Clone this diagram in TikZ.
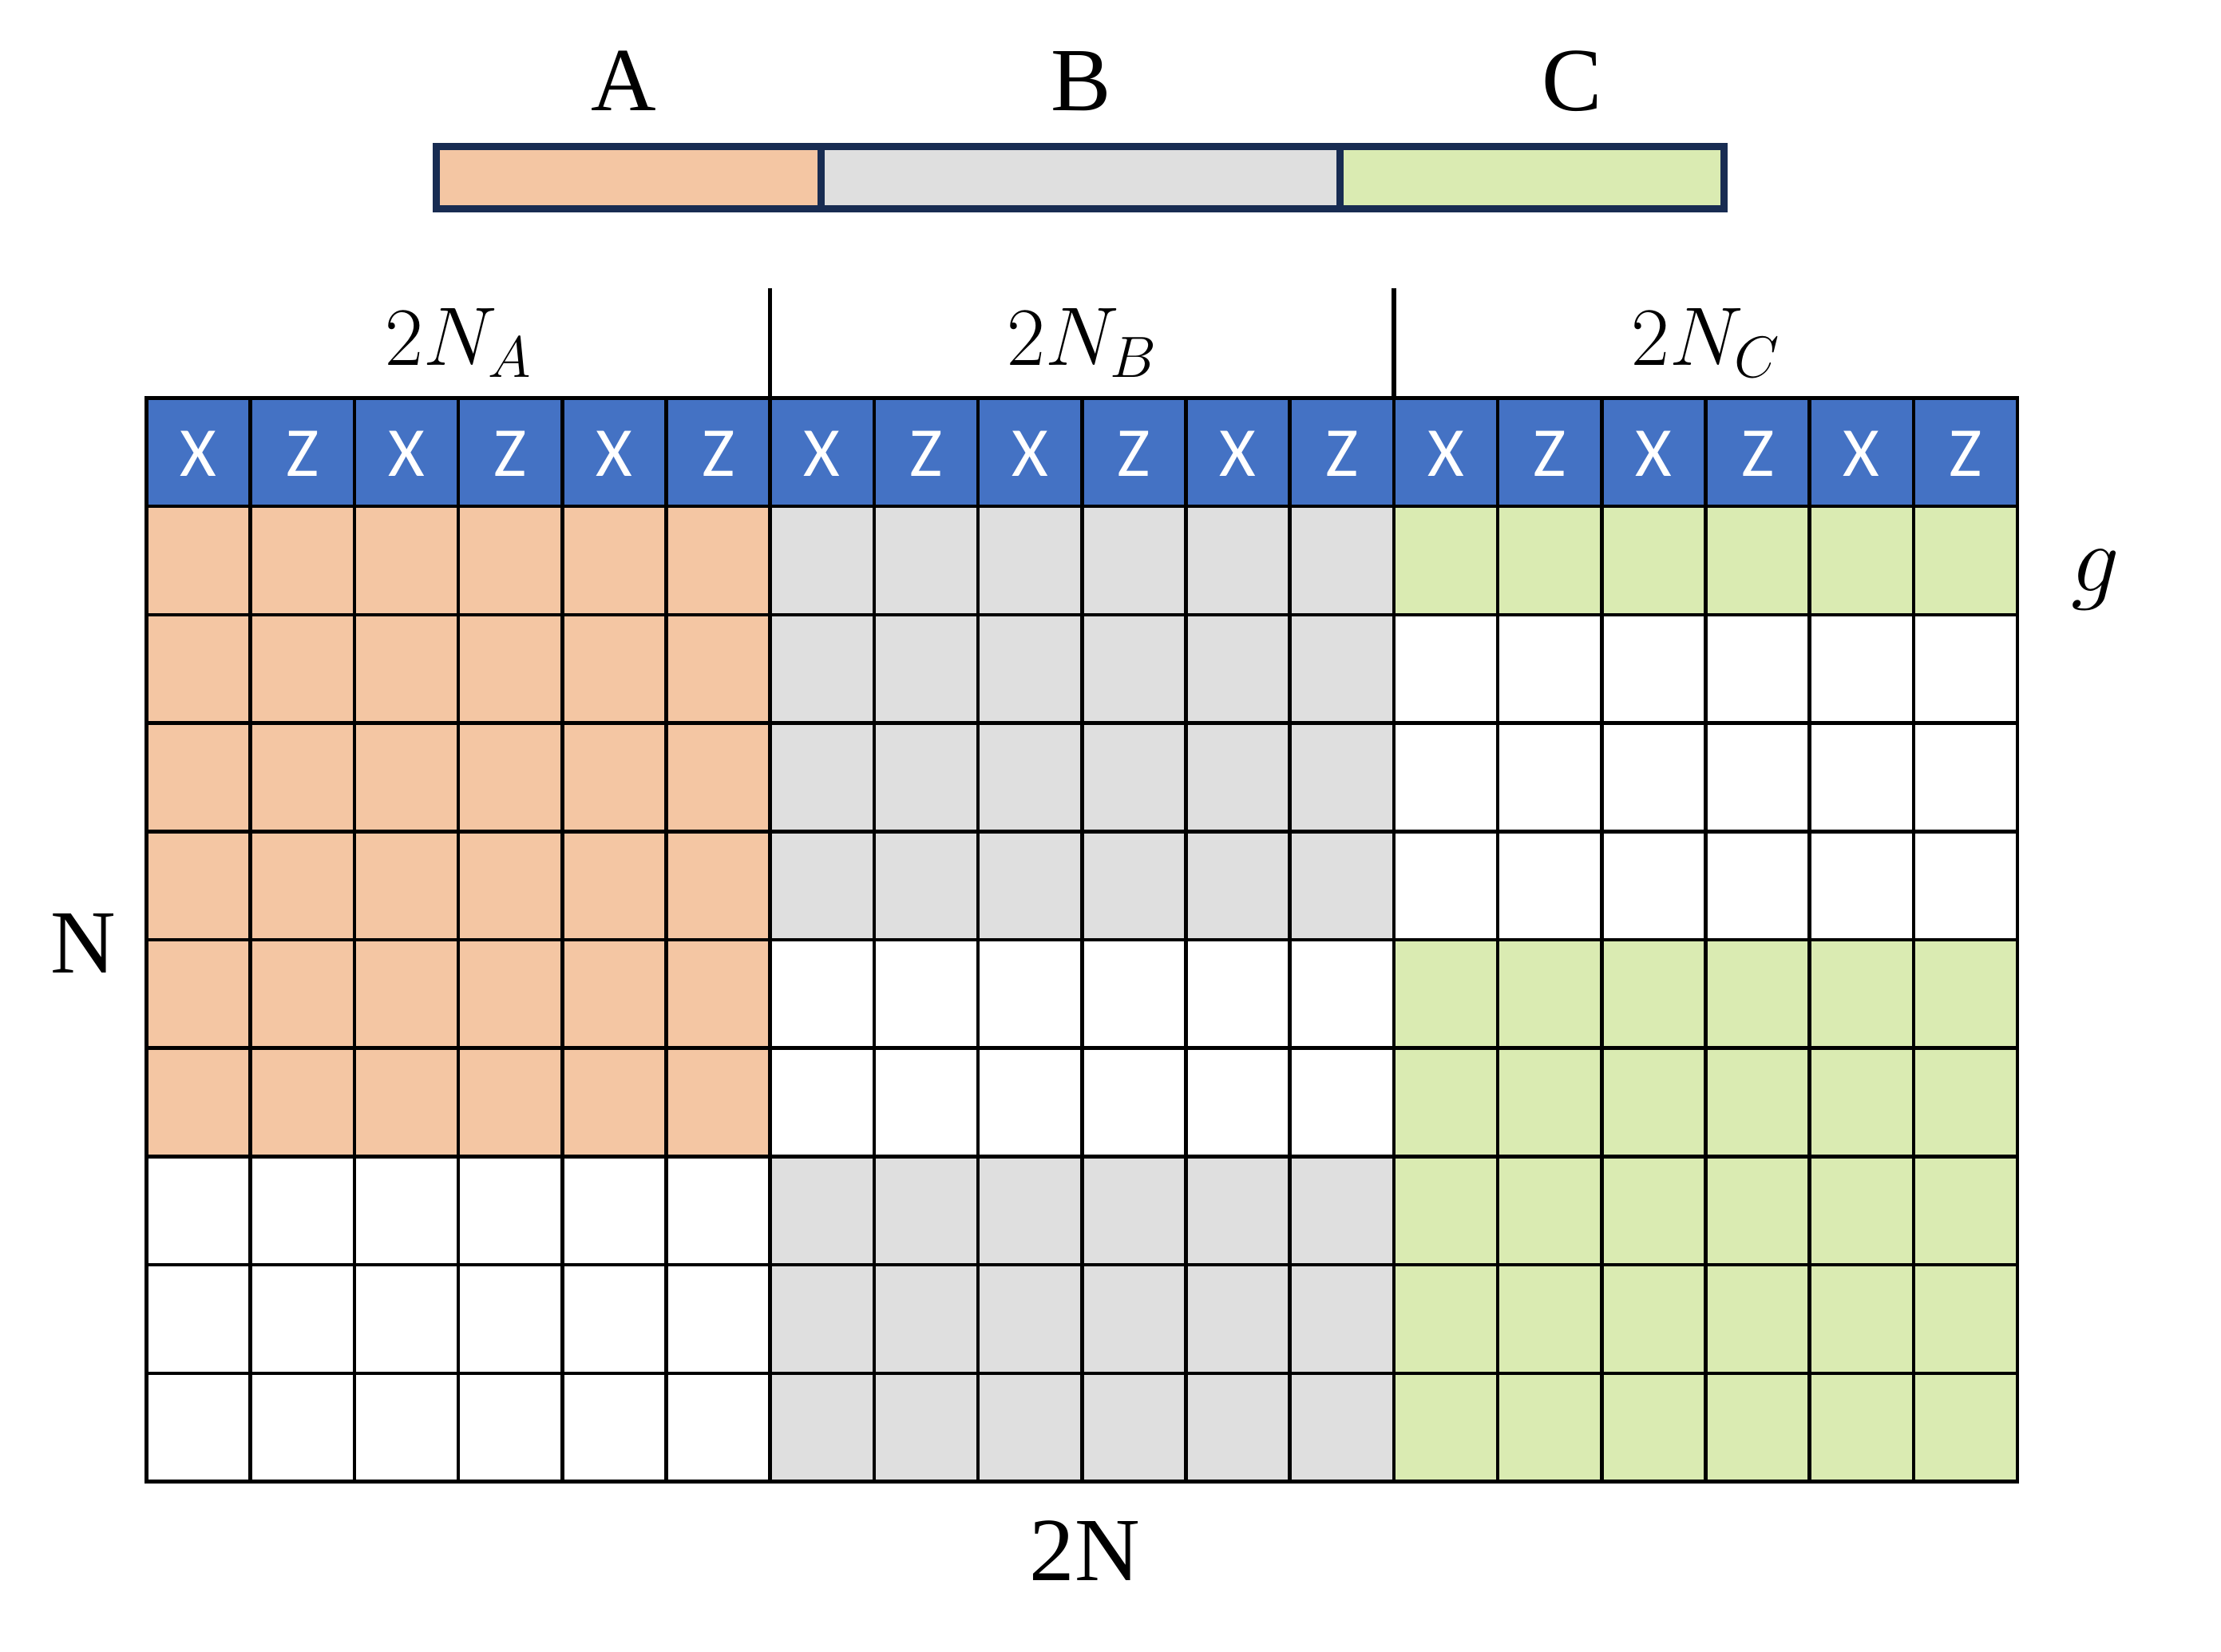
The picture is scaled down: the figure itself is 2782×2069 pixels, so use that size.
\RequirePackage{fix-cm}
\documentclass[tikz,border=0pt]{standalone}
\usepackage{fontspec}
\setmainfont{Liberation Serif}
\newfontfamily\xzfont{Carlito}
\definecolor{hdrblue}{HTML}{4472C4}
\definecolor{cA}{HTML}{F4C6A3}
\definecolor{cB}{HTML}{DFDFDF}
\definecolor{cC}{HTML}{DAEBB2}
\definecolor{navy}{HTML}{182C52}
\begin{document}
\begin{tikzpicture}[x=1pt,y=-1pt,
  gridline/.style={line width=4.5pt,black,line cap=rect},
  divline/.style={line width=5.5pt,black},
  barline/.style={line width=9pt,navy},
  toplabel/.style={anchor=base,inner sep=0pt,font=\fontsize{113}{120}\selectfont},
  mathlabel/.style={anchor=base,inner sep=0pt,font=\fontsize{104}{120}\selectfont},
  xzlabel/.style={anchor=base,inner sep=0pt,text=white,font=\xzfont\fontsize{88}{96}\selectfont}]
\useasboundingbox (0,0) rectangle (2782,2069);
\def\L{183.5}\def\W{130.2}\def\T{498.5}\def\H{135.7}
\newcommand\fillblock[5]{\fill[#1] ({\L+#2*\W},{\T+#3*\H}) rectangle ({\L+#4*\W},{\T+#5*\H});}
% top bar
\fill[cA] (546.5,183.5) rectangle (1028.5,261.5);
\fill[cB] (1028.5,183.5) rectangle (1678.5,261.5);
\fill[cC] (1678.5,183.5) rectangle (2159.5,261.5);
\draw[barline] (546.5,183.5) rectangle (2159.5,261.5);
\draw[barline] (1028.5,183.5) -- (1028.5,261.5);
\draw[barline] (1678.5,183.5) -- (1678.5,261.5);
\node[toplabel] (lA) at (781,138) {A};
\node[toplabel] (lB) at (1354,138) {B};
\node[toplabel] (lC) at (1969,138) {C};
% grid fills
\fillblock{hdrblue}{0}{0}{18}{1}
\fillblock{cA}{0}{1}{6}{7}
\fillblock{cB}{6}{1}{12}{5}
\fillblock{cB}{6}{7}{12}{10}
\fillblock{cC}{12}{1}{18}{2}
\fillblock{cC}{12}{5}{18}{10}
% grid lines
\foreach \i in {0,...,18} \draw[gridline] ({\L+\i*\W},\T) -- ({\L+\i*\W},{\T+10*\H});
\foreach \j in {0,...,10} \draw[gridline] (\L,{\T+\j*\H}) -- ({\L+18*\W},{\T+\j*\H});
% dividers above grid
\draw[divline] ({\L+6*\W},360.7) -- ({\L+6*\W},\T);
\draw[divline] ({\L+12*\W},360.7) -- ({\L+12*\W},\T);
% header letters
\foreach \k in {0,...,8} {
  \node[xzlabel] (hx\k) at ({\L+(2*\k+0.5)*\W},596) {X};
  \node[xzlabel] (hz\k) at ({\L+(2*\k+1.5)*\W},596) {Z};
}
% labels
\node[mathlabel] (nA) at ({\L+3*\W},457) {$2N_A$};
\node[mathlabel] (nB) at ({\L+9*\W},457) {$2N_B$};
\node[mathlabel] (nC) at ({\L+15*\W},457) {$2N_C$};
\node[anchor=base,inner sep=0pt,font=\fontsize{120}{130}\selectfont] (g) at (2625,740) {$g$};
\node[toplabel] (lN) at (104.5,1218) {N};
\node[toplabel] (l2N) at (1359,1979) {2N};
\end{tikzpicture}
\end{document}
